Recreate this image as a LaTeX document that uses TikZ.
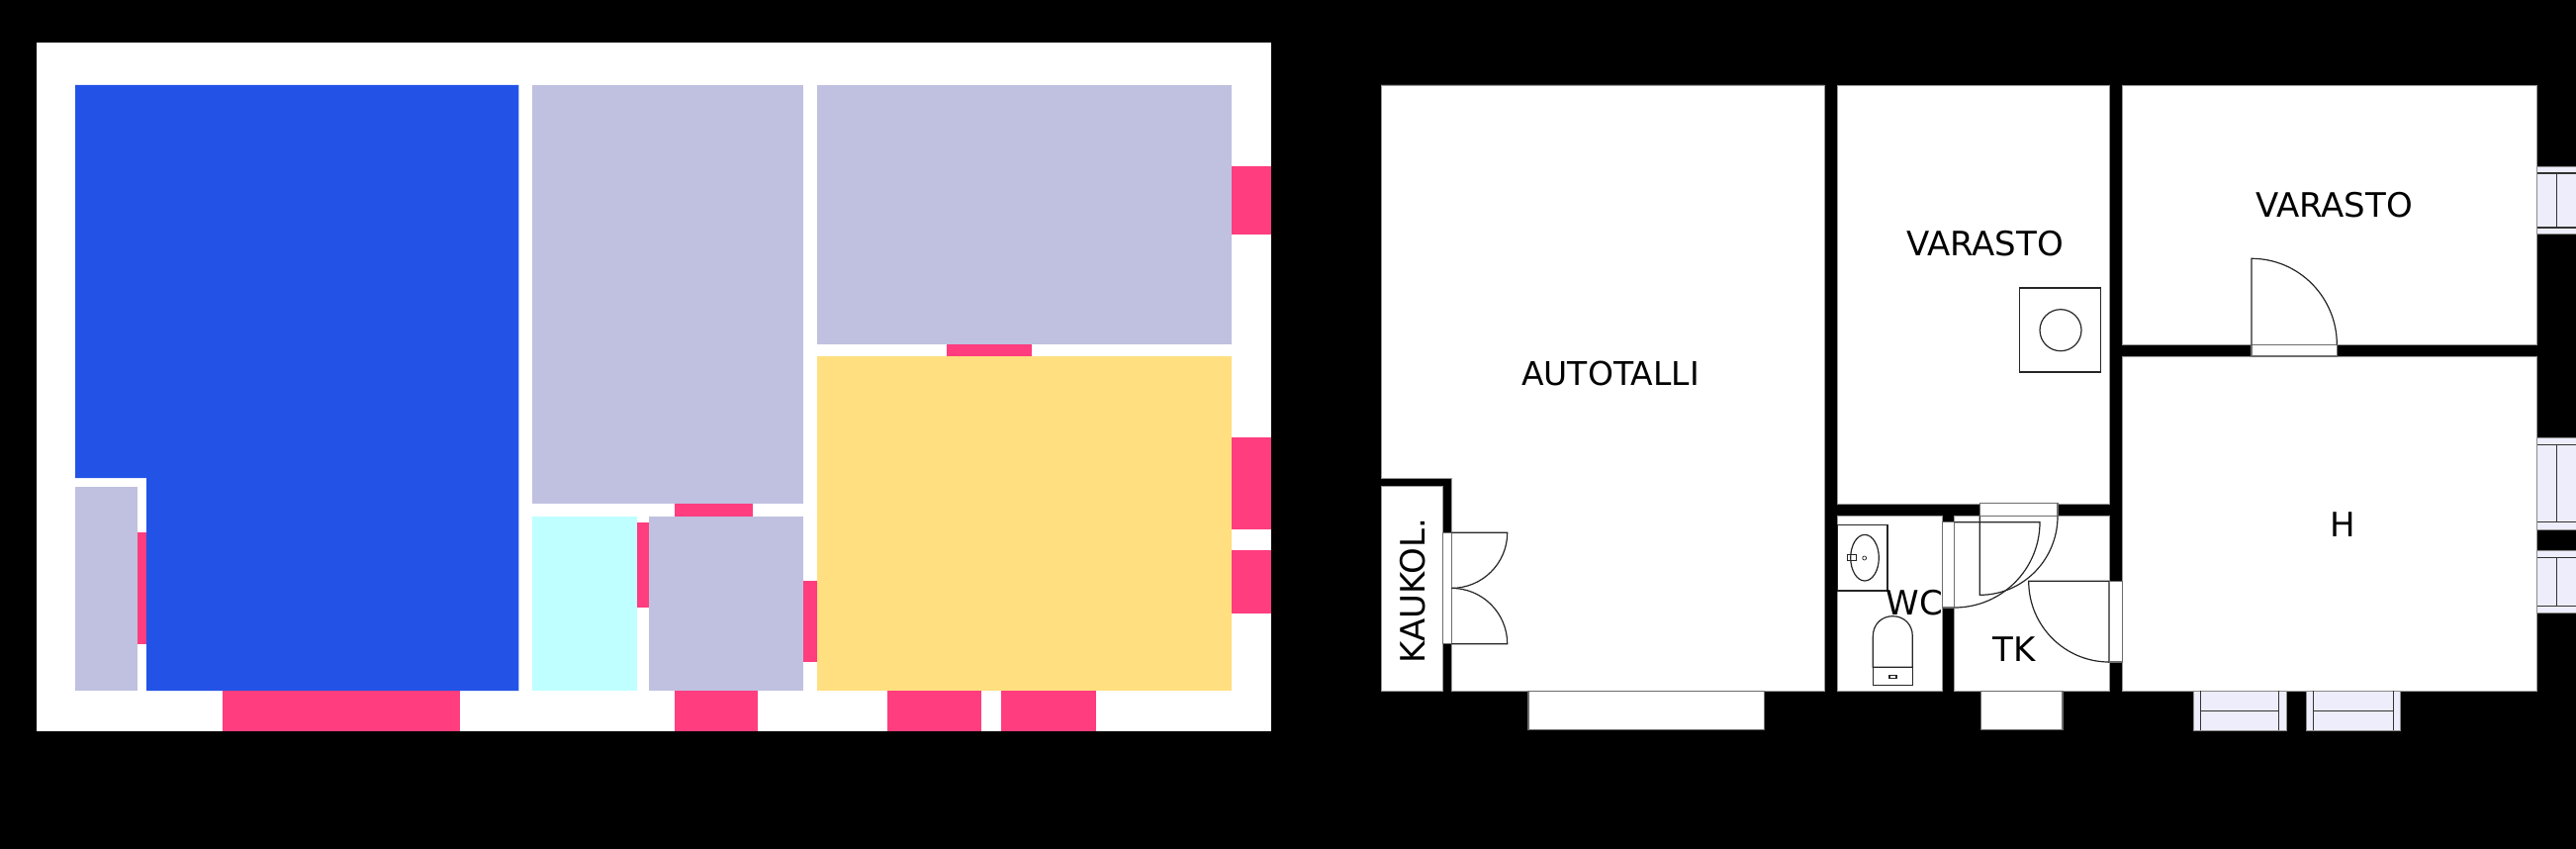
\documentclass[tikz,border=0pt]{standalone}
\usepackage{fontspec}
\setmainfont{DejaVu Sans}
\usetikzlibrary{calc}
\definecolor{planblue}{HTML}{2353E6}
\definecolor{planlav}{HTML}{C0C0E0}
\definecolor{plancyan}{HTML}{C0FFFF}
\definecolor{planyellow}{HTML}{FFDF80}
\definecolor{planpink}{HTML}{FF3D7F}
\definecolor{planglass}{HTML}{EDEDFB}
\definecolor{planedge}{HTML}{6E6E6E}
\tikzset{
  wpink/.style={fill=planpink},
  room/.style={fill=white,draw=planedge!70,line width=0.7pt},
  frame/.style={fill=white,draw=planedge,line width=1.2pt},
  glass/.style={fill=planglass,draw=planedge!80,line width=0.8pt},
  pane/.style={draw=black!80,line width=1.2pt},
  leaf/.style={draw=black!85,line width=1.2pt},
  fixture/.style={draw=black!85,line width=1.2pt},
  label/.style={inner sep=0pt,font=\fontsize{34}{40}\selectfont}
}
\newcommand\swing[3]{\draw[leaf] (#1) -- (#2) .. controls ($(#2)+0.5523*(#3)-0.5523*(#1)$) and ($(#3)+0.5523*(#2)-0.5523*(#1)$) .. (#3);}
\begin{document}
\begin{tikzpicture}[x=1pt,y=-1pt]
\useasboundingbox (0,0) rectangle (2604,858);
\fill[black] (0,0) rectangle (2604,858);
% ---- left colour plan
\fill[white] (36.7,43) rectangle (1285,738.5);
\fill[planblue] (76,86) -- (524.4,86) -- (524.4,698) -- (148,698) -- (148,483) -- (76,483) -- cycle;
\fill[planlav] (76,491.7) rectangle (138.8,698);
\fill[planlav] (538,86) rectangle (812.4,509);
\fill[planlav] (656,521.7) rectangle (812.4,698);
\fill[planlav] (826,86) rectangle (1245,348);
\fill[plancyan] (538,521.7) rectangle (644,698);
\fill[planyellow] (826,360) rectangle (1245,698);
\fill[wpink] (225,698) rectangle (464.6,738.5);
\fill[wpink] (138.8,538) rectangle (148,650.7);
\fill[wpink] (681.8,509) rectangle (760.8,521.7);
\fill[wpink] (644,527.7) rectangle (656,614);
\fill[wpink] (682.4,698) rectangle (765.8,738.5);
\fill[wpink] (812.4,587) rectangle (826,669);
\fill[wpink] (956.7,348) rectangle (1043.4,360);
\fill[wpink] (1245,168) rectangle (1285,237);
\fill[wpink] (1245,441.7) rectangle (1285,535);
\fill[wpink] (1245,556) rectangle (1285,620);
\fill[wpink] (897,698) rectangle (992,738.5);
\fill[wpink] (1011.8,698) rectangle (1107.8,738.5);
% ---- right floor plan: rooms
\draw[room] (1396,86) -- (1844,86) -- (1844,698.3) -- (1467.3,698.3) -- (1467.3,483.3) -- (1396,483.3) -- cycle;
\draw[room] (1396,491.7) rectangle (1458.3,698.3);
\draw[room] (1857.3,86) rectangle (2132,509);
\draw[room] (1857.3,521.7) rectangle (1963.7,698.3);
\draw[room] (1975.7,521.7) rectangle (2132,698.3);
\draw[room] (2145.3,86) rectangle (2564.7,348.3);
\draw[room] (2145.3,360) rectangle (2564.7,698.3);
% ---- openings (plain)
\draw[frame] (1458.3,538.3) rectangle (1467.3,650.7);
\draw[frame] (1545,698.3) rectangle (1783.7,737.7);
\draw[frame] (2002.3,698.3) rectangle (2085,737.7);
\draw[frame] (2001.3,508.7) rectangle (2080,521.7);
\draw[frame] (1963.7,527.7) rectangle (1975.7,614);
\draw[frame] (2132,587.3) rectangle (2145.3,669);
\draw[frame] (2276,348.3) rectangle (2362.3,360);
% ---- door leaves
\swing{1467.3,538.3}{1523.7,538.3}{1467.3,594.4}
\swing{1467.3,650.7}{1523.7,650.7}{1467.3,594.4}
\swing{1975.7,527.7}{2062,527.7}{1975.7,614}
\swing{2001.3,521.7}{2001.3,601.3}{2080,521.7}
\swing{2132,587.3}{2050.7,587.3}{2132,669}
\swing{2276,348.3}{2276,261.3}{2362.3,348.3}
% ---- windows right
\draw[glass] (2564.7,168.3) rectangle (2610,236.7);
\draw[pane] (2564.7,175) -- (2610,175) (2564.7,230) -- (2610,230) (2584.6,175) -- (2584.6,230);
\draw[glass] (2564.7,442) rectangle (2610,535);
\draw[pane] (2564.7,449.3) -- (2610,449.3) (2564.7,527.3) -- (2610,527.3) (2584.6,449.3) -- (2584.6,527.3);
\draw[glass] (2564.7,556.7) rectangle (2610,619.3);
\draw[pane] (2564.7,563.3) -- (2610,563.3) (2564.7,612.3) -- (2610,612.3) (2584.6,563.3) -- (2584.6,612.3);
% ---- windows bottom
\draw[glass] (2217,698.3) rectangle (2311,738.3);
\draw[pane] (2224.3,698.3) -- (2224.3,738.3) (2303.7,698.3) -- (2303.7,738.3) (2224.3,718.3) -- (2303.7,718.3);
\draw[glass] (2331.7,698.3) rectangle (2426.7,738.3);
\draw[pane] (2338.3,698.3) -- (2338.3,738.3) (2419.3,698.3) -- (2419.3,738.3) (2338.3,718.3) -- (2419.3,718.3);
% ---- fixtures
\draw[fixture] (2041.7,291) rectangle (2123.7,376);
\draw[fixture] (2083,333.7) circle[radius=21];
\draw[fixture] (1857.3,530.7) rectangle (1908,597);
\draw[fixture] (1885,563.7) ellipse[x radius=14.3,y radius=23.3];
\draw[fixture] (1867.3,560.3) rectangle (1876.7,566.7);
\draw[fixture,line width=0.7pt] (1884.7,564) circle[radius=2];
\draw[fixture] (1893.3,674.3) -- (1893.3,643 ) .. controls (1893.3,631) and (1902,622.7) .. (1913.3,622.7) .. controls (1924.6,622.7) and (1933.3,631) .. (1933.3,643) -- (1933.3,674.3) -- cycle;
\draw[fixture] (1893.3,674.3) rectangle (1933.3,692.7);
\draw[fixture] (1910,682.3) rectangle (1917,685.3);
% ---- labels
\node[label,font=\fontsize{33}{40}\selectfont] (autotalli) at (1628,377) {AUTOTALLI};
\node[label,rotate=90] (kaukol) at (1428,597) {KAUKOL.};
\node[label] (varastoa) at (2006.5,246) {VARASTO};
\node[label] (varastob) at (2359.5,207) {VARASTO};
\node[label] (wc) at (1935.5,609) {WC};
\node[label] (tk) at (2036,656.5) {TK};
\node[label] (h) at (2368,530) {H};
\end{tikzpicture}
\end{document}
